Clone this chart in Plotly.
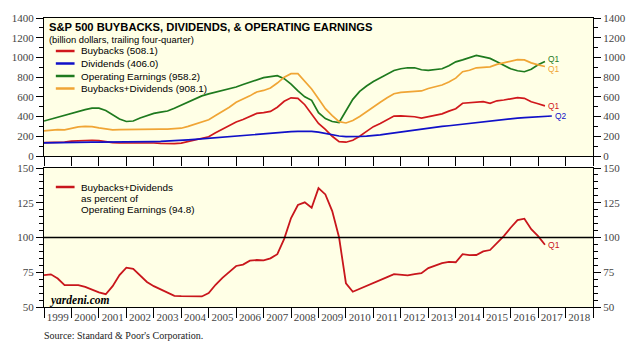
import plotly.graph_objects as go

# ---------------- data (quarterly, trailing four-quarter, billion $) ----------------
start_year = 1999.0
quarter_step = 0.25

earnings = [355, 375, 395, 412, 428, 450, 470, 485, 485, 462, 420, 375, 350, 355, 385, 410,
            432, 445, 456, 485, 515, 548, 580, 610, 630, 648, 665, 680, 700, 725, 750, 778,
            795, 805, 815, 785, 730, 660, 600, 565, 440, 380, 350, 340, 465, 575, 655, 710,
            755, 790, 830, 868, 885, 895, 895, 875, 868, 878, 885, 915, 955, 975, 1000, 1020,
            1005, 990, 955, 920, 885, 865, 855, 880, 925, 958.2]

buybacks_dividends = [255, 262, 268, 265, 280, 295, 300, 298, 285, 272, 265, 268, 270, 270, 272, 272,
                      272, 273, 272, 275, 282, 300, 322, 345, 368, 410, 450, 495, 545, 575, 610, 650,
                      665, 690, 740, 800, 835, 835, 760, 680, 580, 480, 410, 348, 335, 360, 400, 450,
                      500, 545, 590, 632, 645, 652, 655, 660, 685, 705, 720, 750, 790, 855, 870, 895,
                      900, 905, 930, 945, 960, 978, 975, 945, 925, 908.1]

buybacks = [135, 135, 135, 140, 150, 155, 158, 160, 155, 142, 135, 132, 133, 133, 132, 133,
            132, 128, 125, 125, 130, 145, 160, 175, 195, 235, 270, 310, 345, 370, 400, 432,
            440, 452, 495, 555, 590, 585, 520, 430, 330, 270, 200, 145, 140, 160, 200, 250,
            298, 330, 370, 405, 408, 406, 398, 385, 400, 415, 428, 455, 480, 535, 540, 550,
            552, 535, 560, 568, 578, 592, 585, 550, 530, 508.1]

dividends = [133, 135, 137, 138, 140, 140, 141, 141, 140, 140, 140, 140, 141, 142, 143, 144,
             146, 148, 150, 153, 158, 163, 168, 174, 180, 186, 192, 198, 204, 210, 216, 222,
             228, 235, 240, 244, 247, 250, 252, 250, 242, 228, 215, 203, 197, 196, 198, 202,
             206, 215, 225, 235, 245, 255, 265, 276, 285, 293, 300, 307, 315, 325, 333, 342,
             350, 358, 366, 374, 380, 385, 390, 393, 397, 402, 406.0]

payout_pct = [73, 73.5, 70.5, 65.8, 65.8, 65.8, 64.5, 62.5, 60.5, 59.2, 65, 73, 78.3, 77.5, 72.5, 68,
              65, 62.5, 60, 58, 57.8, 57.8, 57.6, 57.6, 60, 66, 71, 75.5, 79.5, 80.5, 83.3, 83.8,
              83.5, 85, 88, 99, 114, 123.4, 125.3, 121.4, 135.5, 131, 119, 100, 67, 61, 63, 65,
              67, 69.5, 71.5, 73.7, 73.5, 72.8, 73.7, 74.3, 78, 80, 81.5, 82.5, 82.2, 88, 87.3, 87.4,
              90, 91, 96, 101, 107, 112.5, 113.5, 106, 101, 94.8]

years = list(range(1999, 2020))
year_labels = [str(y) for y in range(1999, 2019)]

legend_top = ["Buybacks (508.1)", "Dividends (406.0)", "Operating Earnings (958.2)",
              "Buybacks+Dividends (908.1)"]
legend_bottom = ["Buybacks+Dividends", "as percent of", "Operating Earnings (94.8)"]


def xs(series):
    return [start_year + quarter_step * i for i in range(len(series))]


RED = "#D0181C"
BLUE = "#1010C8"
GREEN = "#1E7A1E"
ORANGE = "#F0A535"
RED2 = "#C8161C"
BG = "#FFFFE6"

W, H = 638, 346
ML, MR, MT, MB = 39, 42, 18, 39
PW, PH = W - ML - MR, H - MT - MB


def px(xp):
    return (xp - ML) / PW


def py(yp):
    return (H - MB - yp) / PH


fig = go.Figure()

top_series = [(buybacks, RED, "Q1", 0), (dividends, BLUE, "Q2", 0),
              (earnings, GREEN, "Q1", 2.5), (buybacks_dividends, ORANGE, "Q1", -2.5)]
for (vals, col, q, dy), name in zip(top_series, legend_top):
    fig.add_trace(go.Scatter(x=xs(vals), y=vals, mode="lines", name=name,
                             line=dict(color=col, width=1.7), xaxis="x", yaxis="y",
                             hoverinfo="skip", showlegend=False))

fig.add_trace(go.Scatter(x=xs(payout_pct), y=payout_pct, mode="lines",
                         line=dict(color=RED2, width=1.8), xaxis="x2", yaxis="y2",
                         hoverinfo="skip", showlegend=False))
# dummy traces for right-hand axes
fig.add_trace(go.Scatter(x=[None], y=[None], xaxis="x", yaxis="y3", showlegend=False, hoverinfo="skip"))
fig.add_trace(go.Scatter(x=[None], y=[None], xaxis="x2", yaxis="y4", showlegend=False, hoverinfo="skip"))

tickfont = dict(family="Liberation Serif", size=11, color="#444444")
ycommon = dict(ticks="outside", ticklen=7, tickcolor="black", showline=True, linecolor="black",
               linewidth=1, showgrid=False, zeroline=False, tickfont=tickfont)

fig.update_layout(
    width=W, height=H, margin=dict(l=ML, r=MR, t=MT, b=MB),
    paper_bgcolor="white", plot_bgcolor=BG, showlegend=False,
    xaxis=dict(domain=[0, 1], anchor="y", range=[1999, 2019], tickmode="array", tickvals=years,
               showticklabels=False, ticks="outside", ticklen=9, tickcolor="black",
               showline=True, mirror=True, linecolor="black", linewidth=1,
               showgrid=False, zeroline=False),
    xaxis2=dict(domain=[0, 1], anchor="y2", range=[1999, 2019], tickmode="array",
                tickvals=[y + 0.5 for y in range(1999, 2019)], ticktext=year_labels,
                ticks="", tickfont=tickfont,
                minor=dict(tickmode="array", tickvals=years, ticks="outside", ticklen=10,
                           tickcolor="black", showgrid=False),
                showline=True, mirror=True, linecolor="black", linewidth=1,
                showgrid=False, zeroline=False),
    yaxis=dict(domain=[py(156), 1], anchor="x", range=[0, 1400], tickmode="array",
               tickvals=list(range(0, 1401, 200)), mirror=True,
               minor=dict(dtick=100, tick0=0, ticks="outside", ticklen=4, tickcolor="black"), **ycommon),
    yaxis3=dict(overlaying="y", side="right", anchor="x", range=[0, 1400], tickmode="array",
                tickvals=list(range(0, 1401, 200)),
                minor=dict(dtick=100, tick0=0, ticks="outside", ticklen=4, tickcolor="black"), **ycommon),
    yaxis2=dict(domain=[0, py(168)], anchor="x2", range=[50, 150], tickmode="array",
                tickvals=[50, 75, 100, 125, 150], mirror=True,
                minor=dict(dtick=5, tick0=50, ticks="outside", ticklen=4, tickcolor="black"), **ycommon),
    yaxis4=dict(overlaying="y2", side="right", anchor="x2", range=[50, 150], tickmode="array",
                tickvals=[50, 75, 100, 125, 150],
                minor=dict(dtick=5, tick0=50, ticks="outside", ticklen=4, tickcolor="black"), **ycommon),
)

fig.add_shape(type="line", xref="x2 domain", yref="y2", x0=0, x1=1, y0=100, y1=100,
              line=dict(color="black", width=1.5))

sans = "Liberation Sans"
ann = []
ann.append(dict(text="<b>S&P 500 BUYBACKS, DIVIDENDS, & OPERATING EARNINGS</b>", x=px(42), y=py(27.5),
                xref="paper", yref="paper", xanchor="left", yanchor="middle", showarrow=False,
                font=dict(family=sans, size=11.2, color="black")))
ann.append(dict(text="(billion dollars, trailing four-quarter)", x=px(42), y=py(40),
                xref="paper", yref="paper", xanchor="left", yanchor="middle", showarrow=False,
                font=dict(family=sans, size=9.4, color="black")))
for i, ((vals, col, q, dy), name) in enumerate(zip(top_series, legend_top)):
    yy = 51 + 12.5 * i
    fig.add_shape(type="line", xref="paper", yref="paper", x0=px(51), x1=px(70), y0=py(yy), y1=py(yy),
                  line=dict(color=col, width=2.5))
    ann.append(dict(text=name, x=px(74.5), y=py(yy), xref="paper", yref="paper", xanchor="left",
                    yanchor="middle", showarrow=False, font=dict(family=sans, size=9.9, color="black")))

fig.add_shape(type="line", xref="paper", yref="paper", x0=px(51), x1=px(70), y0=py(187), y1=py(187),
              line=dict(color=RED2, width=2.5))
for i, t in enumerate(legend_bottom):
    ann.append(dict(text=t, x=px(74.5), y=py(187.5 + 10.8 * i), xref="paper", yref="paper",
                    xanchor="left", yanchor="middle", showarrow=False,
                    font=dict(family=sans, size=9.9, color="black")))

# end-of-series quarter labels
for (vals, col, q, dy) in top_series:
    ann.append(dict(text=q, x=xs(vals)[-1], y=vals[-1], xref="x", yref="y", xanchor="left",
                    yanchor="middle", xshift=1, yshift=dy, showarrow=False,
                    font=dict(family=sans, size=8.4, color=col)))
ann.append(dict(text="Q1", x=xs(payout_pct)[-1], y=payout_pct[-1], xref="x2", yref="y2", xanchor="left",
                yanchor="middle", xshift=1, showarrow=False,
                font=dict(family=sans, size=8.6, color=RED2)))

ann.append(dict(text="<b><i>yardeni.com</i></b>", x=px(42), y=py(300), xref="paper", yref="paper",
                xanchor="left", yanchor="middle", showarrow=False,
                font=dict(family="Liberation Serif", size=11.5, color="black")))
ann.append(dict(text="Source: Standard & Poor's Corporation.", x=px(37), y=py(335), xref="paper",
                yref="paper", xanchor="left", yanchor="middle", showarrow=False,
                font=dict(family="Liberation Serif", size=10, color="#222222")))

fig.update_layout(annotations=ann)
fig.write_html("out.html")
